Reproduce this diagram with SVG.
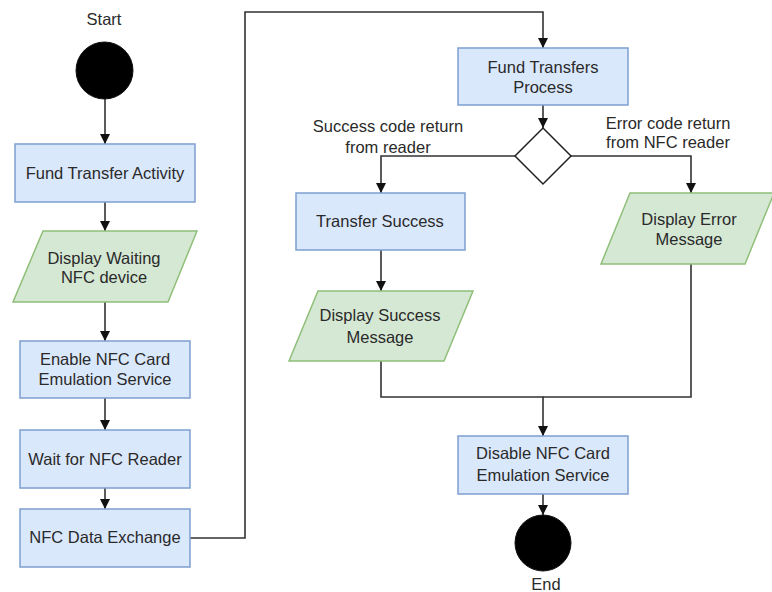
<svg xmlns="http://www.w3.org/2000/svg" width="772" height="592" viewBox="0 0 772 592">
  <defs>
    <marker id="arrow" markerUnits="userSpaceOnUse" markerWidth="10" markerHeight="10" refX="10" refY="5" orient="auto">
      <path d="M0,0 L10,5 L0,10 Z" fill="#111"/>
    </marker>
    <style>
      .proc { fill: #dae8fc; stroke: #7e9fcf; stroke-width: 1.5; }
      .io { fill: #d5e8d4; stroke: #8fbf78; stroke-width: 1.5; }
      .term { fill: #000; stroke: #111; stroke-width: 1; }
      .dec { fill: #fff; stroke: #222; stroke-width: 1.5; }
      .edge { fill: none; stroke: #333; stroke-width: 1.6; }
      text { font-family: "Liberation Sans", Arial, sans-serif; font-size: 16.5px; fill: #2a2a2a; text-anchor: middle; }
    </style>
  </defs>

  <g id="connectors">
    <path class="edge" d="M105,99 V144" marker-end="url(#arrow)"/>
    <path class="edge" d="M105,202 V231" marker-end="url(#arrow)"/>
    <path class="edge" d="M105,302 V341" marker-end="url(#arrow)"/>
    <path class="edge" d="M105,398 V430" marker-end="url(#arrow)"/>
    <path class="edge" d="M105,488 V509" marker-end="url(#arrow)"/>
    <path class="edge" d="M190,538 H245 V12 H543 V48" marker-end="url(#arrow)"/>
    <path class="edge" d="M543,105 V128" marker-end="url(#arrow)"/>
    <path class="edge" d="M516,156 H381 V193" marker-end="url(#arrow)"/>
    <path class="edge" d="M571,156 H691 V193" marker-end="url(#arrow)"/>
    <path class="edge" d="M381,250 V291" marker-end="url(#arrow)"/>
    <path class="edge" d="M381,361 V397 H543 V436" marker-end="url(#arrow)"/>
    <path class="edge" d="M691,263 V397 H543"/>
    <path class="edge" d="M543,494 V515" marker-end="url(#arrow)"/>
  </g>

  <g id="start">
    <text x="104" y="25">Start</text>
    <circle class="term" cx="104.5" cy="70.5" r="28.5"/>
  </g>

  <g id="fund-transfer-activity">
    <rect class="proc" x="15" y="144" width="180" height="58"/>
    <text x="105" y="179">Fund Transfer Activity</text>
  </g>

  <g id="display-waiting">
    <polygon class="io" points="43,231 197,231 168,302 13,302"/>
    <text x="104" y="264">Display Waiting</text>
    <text x="104" y="283">NFC device</text>
  </g>

  <g id="enable-nfc">
    <rect class="proc" x="20" y="341" width="170" height="57"/>
    <text x="105" y="365">Enable NFC Card</text>
    <text x="105" y="385">Emulation Service</text>
  </g>

  <g id="wait-reader">
    <rect class="proc" x="20" y="430" width="170" height="58"/>
    <text x="105" y="465">Wait for NFC Reader</text>
  </g>

  <g id="data-exchange">
    <rect class="proc" x="20" y="509" width="170" height="58"/>
    <text x="105" y="543">NFC Data Exchange</text>
  </g>

  <g id="fund-transfers-process">
    <rect class="proc" x="458" y="48" width="170" height="57"/>
    <text x="543" y="73">Fund Transfers</text>
    <text x="543" y="93">Process</text>
  </g>

  <g id="decision">
    <polygon class="dec" points="543,128 571,156 543,184 515,156"/>
    <text x="388" y="132">Success code return</text>
    <text x="388" y="153">from reader</text>
    <text x="668" y="129">Error code return</text>
    <text x="668" y="148">from NFC reader</text>
  </g>

  <g id="transfer-success">
    <rect class="proc" x="296" y="193" width="169" height="57"/>
    <text x="380" y="227">Transfer Success</text>
  </g>

  <g id="display-error">
    <polygon class="io" points="630,193 774,193 745,264 601,264"/>
    <text x="689" y="225">Display Error</text>
    <text x="689" y="245">Message</text>
  </g>

  <g id="display-success">
    <polygon class="io" points="318,291 473,291 444,361 289,361"/>
    <text x="380" y="321">Display Success</text>
    <text x="380" y="343">Message</text>
  </g>

  <g id="disable-nfc">
    <rect class="proc" x="458" y="436" width="170" height="58"/>
    <text x="543" y="459">Disable NFC Card</text>
    <text x="543" y="481">Emulation Service</text>
  </g>

  <g id="end">
    <circle class="term" cx="543" cy="543" r="28"/>
    <text x="546" y="590">End</text>
  </g>
</svg>
